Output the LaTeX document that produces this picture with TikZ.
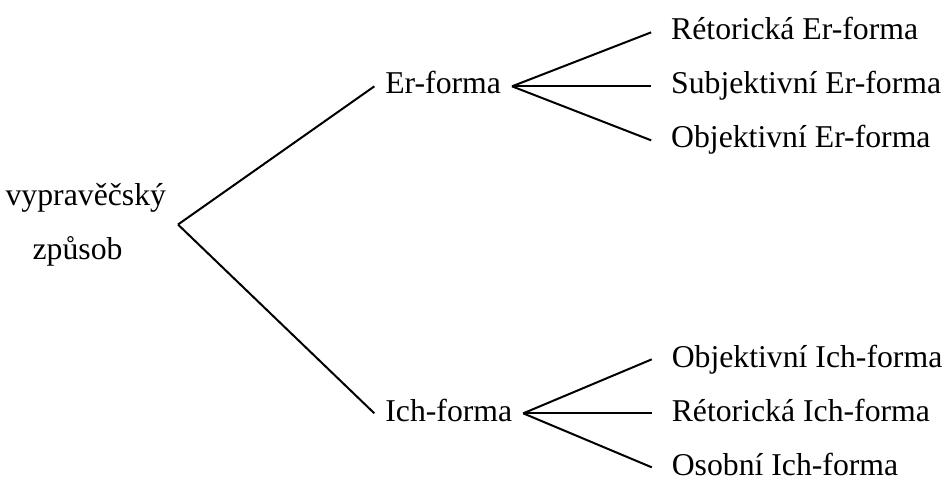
\documentclass[tikz,border=0pt]{standalone}
\usepackage{fontspec}
\setmainfont{Liberation Serif}

\begin{document}
\begin{tikzpicture}[font=\fontsize{23.8}{40.5}\selectfont,line width=1.5pt,grow'=right,
    form/.style={anchor=west,yshift=-20.85pt,inner xsep=7.5pt,inner ysep=0pt,text height=16.7pt,text depth=5.2pt},
    subform/.style={anchor=west,inner xsep=14.25pt,inner ysep=0pt,text height=16.7pt,text depth=5.2pt},
    ichform/.style={subform,xshift=-3.75pt},
    level 1/.style={level distance=216.4pt,sibling distance=249pt},
    level 2/.style={level distance=156pt,sibling distance=40.5pt},
    edge from parent path={(\tikzparentnode.east) -- (\tikzchildnode.west)}]
  \useasboundingbox (-133.5pt,-192.4pt) rectangle (575.25pt,168.4pt);
  \node[anchor=east,inner xsep=8.25pt,align=left](zpusob){vypravěčský\\\hspace*{20.25pt}způsob}
  child{
    node[form](er){Er-forma}
    child{
      node[subform](er-ret){Rétorická Er-forma}
    }
    child{
      node[subform](er-subj){Subjektivní Er-forma}
    }
    child{
      node[subform](er-obj){Objektivní Er-forma}
    }
  }
  child{
    node[form,yshift=3.75pt](ich){Ich-forma}
    child{
      node[ichform](ich-obj){Objektivní Ich-forma}
    }
    child{
      node[ichform](ich-ret){Rétorická Ich-forma}
    }
    child{
      node[ichform](ich-os){Osobní Ich-forma}
    }
  };
\end{tikzpicture}
\end{document}
